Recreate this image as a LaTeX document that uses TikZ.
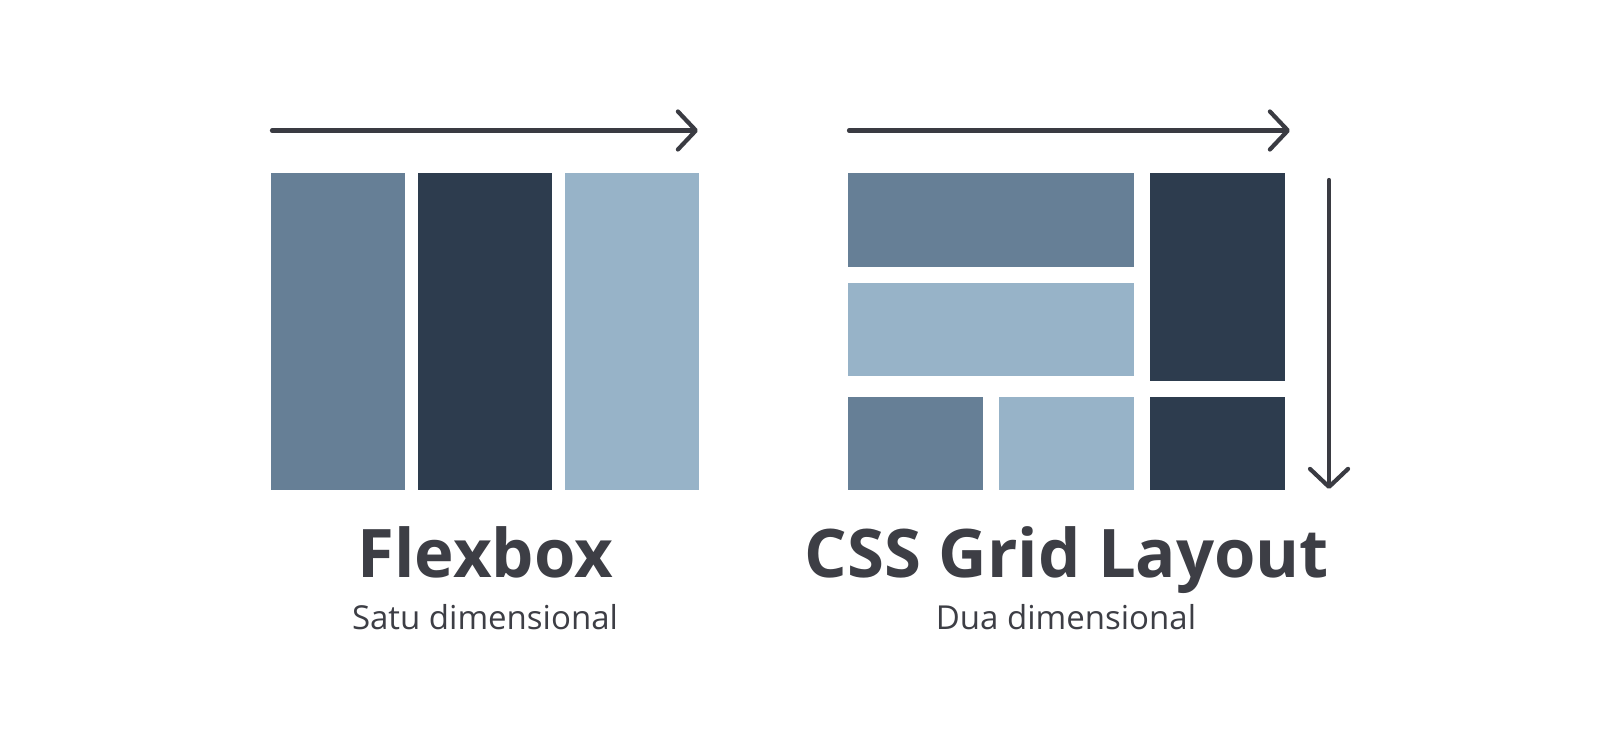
\documentclass[tikz,border=0pt]{standalone}
\usepackage{fontspec}
\setmainfont{Open Sans}
\usetikzlibrary{arrows.meta}
\definecolor{midblue}{HTML}{667F96}
\definecolor{darkblue}{HTML}{2D3C4E}
\definecolor{lightblue}{HTML}{97B3C8}
\definecolor{arrowgray}{HTML}{3A3B42}
\definecolor{textgray}{HTML}{3D3E45}
\tikzset{
  axisarrow/.style={draw=arrowgray, line width=4.2pt, line cap=round,
    -{Straight Barb[length=18pt, width=38pt, round]}},
  titletext/.style={anchor=base, text=textgray, font=\fontsize{67}{78}\selectfont\bfseries, inner sep=0pt},
  subtext/.style={anchor=base, text=textgray, font=\fontsize{33}{39}\selectfont, inner sep=0pt}
}
\begin{document}
\begin{tikzpicture}[x=1pt, y=-1pt]
\useasboundingbox (0,0) rectangle (1600,738);
\fill[white] (0,0) rectangle (1600,738);
% Flexbox blocks
\fill[midblue] (271,173) rectangle (405,490);
\fill[darkblue] (418,173) rectangle (552,490);
\fill[lightblue] (565,173) rectangle (699,490);
% Grid blocks
\fill[midblue] (848,173) rectangle (1134,267);
\fill[lightblue] (848,283) rectangle (1134,376);
\fill[darkblue] (1150,173) rectangle (1285,381);
\fill[midblue] (848,397) rectangle (983,490);
\fill[lightblue] (999,397) rectangle (1134,490);
\fill[darkblue] (1150,397) rectangle (1285,490);
% arrows
\coordinate (fa) at (272,130.5);
\coordinate (fb) at (698,130.5);
\coordinate (ga) at (849,130.5);
\coordinate (gb) at (1290,130.5);
\coordinate (va) at (1329,180);
\coordinate (vb) at (1329,489);
\draw[axisarrow] (fa) -- (fb);
\draw[axisarrow] (ga) -- (gb);
\draw[axisarrow] (va) -- (vb);
% texts
\node[titletext] (flex) at (485.5,577) {Flexbox};
\node[subtext] (flexsub) at (485,629) {Satu dimensional};
\node[titletext] (grid) at (1067,577) {CSS Grid Layout};
\node[subtext] (gridsub) at (1066,629) {Dua dimensional};
\end{tikzpicture}
\end{document}
